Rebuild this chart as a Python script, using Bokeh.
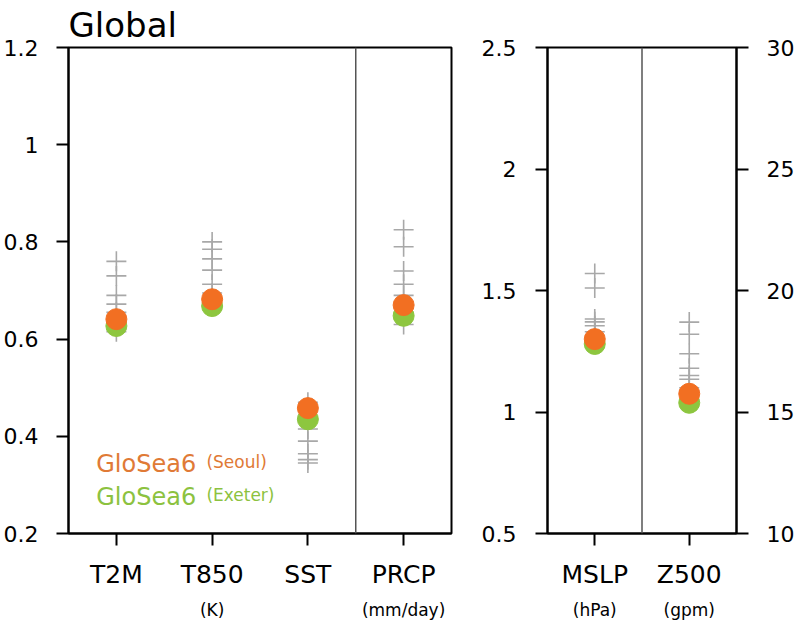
from bokeh.plotting import figure
from bokeh.models import (Range1d, LinearAxis, FixedTicker, NumeralTickFormatter,
                          Span, Label)
from bokeh.layouts import row
from bokeh.embed import file_html
from bokeh.resources import INLINE

FONT = "DejaVu Sans"
ORANGE = "#F26F22"
GREEN = "#8DC63F"
ORANGE_TXT = "#E07A36"
GREEN_TXT = "#8CC23F"
GRAY = "#A8A8A8"

# ---------------- data ----------------
left_vars = ["T2M", "T850", "SST", "PRCP"]
left_units = ["", "(K)", "", "(mm/day)"]
left_seoul = [0.641, 0.682, 0.458, 0.670]
left_exeter = [0.627, 0.668, 0.435, 0.648]
left_others = [
    [0.76, 0.73, 0.69, 0.672, 0.655, 0.615],
    [0.80, 0.785, 0.765, 0.742, 0.713, 0.695],
    [0.47, 0.44, 0.415, 0.39, 0.364, 0.352, 0.345],
    [0.825, 0.79, 0.74, 0.713, 0.69, 0.63],
]
left_ticks = [0.2, 0.4, 0.6, 0.8, 1.0, 1.2]

right_vars = ["MSLP", "Z500"]
right_units = ["(hPa)", "(gpm)"]
mslp_seoul = 1.30
mslp_exeter = 1.28
mslp_others = [1.57, 1.51, 1.383, 1.371, 1.355, 1.33]
z500_seoul = 15.75
z500_exeter = 15.38
z500_others = [18.7, 18.2, 17.4, 16.8, 16.5, 16.35, 16.0]
right_ticks = [0.5, 1.0, 1.5, 2.0, 2.5]
z_ticks = [10, 15, 20, 25, 30]


def style_axis(ax, size, standoff, tick_out=12):
    ax.major_label_text_font = FONT
    ax.major_label_text_font_size = size
    ax.major_label_text_color = "black"
    ax.major_label_standoff = standoff
    ax.axis_line_width = 2
    ax.axis_line_color = "black"
    ax.major_tick_line_width = 2
    ax.major_tick_line_color = "black"
    ax.major_tick_out = tick_out
    ax.major_tick_in = 0
    ax.minor_tick_out = 0
    ax.minor_tick_in = 0
    ax.minor_tick_line_color = None


def unit_axis(positions, units):
    ticks = [pos for pos, u in zip(positions, units) if u]
    ax = LinearAxis(ticker=FixedTicker(ticks=ticks),
                    major_label_overrides={pos: u for pos, u in zip(positions, units) if u})
    style_axis(ax, "17px", 8, tick_out=0)
    ax.axis_line_color = None
    ax.major_tick_line_color = None
    return ax


def base_fig(width, xr, yr, ml, mr):
    p = figure(width=width, height=625, x_range=xr, y_range=yr,
               output_backend="svg", toolbar_location=None,
               min_border_left=ml, min_border_right=mr,
               min_border_top=46, min_border_bottom=92)
    p.grid.visible = False
    p.outline_line_color = "black"
    p.outline_line_width = 2
    p.background_fill_color = "white"
    p.border_fill_color = "white"
    return p


# ---------------- left panel ----------------
lpos = list(range(1, len(left_vars) + 1))
p1 = base_fig(478, Range1d(0.5, len(left_vars) + 0.5), Range1d(0.2, 1.2), 67, 27)
p1.title.text = "Global"
p1.title.text_font = FONT
p1.title.text_font_size = "34px"
p1.title.text_font_style = "normal"
p1.title.text_color = "black"
p1.title.align = "left"
p1.title.standoff = 5
p1.yaxis.ticker = FixedTicker(ticks=left_ticks)
p1.yaxis.formatter = NumeralTickFormatter(format="0.[0]")
style_axis(p1.yaxis[0], "22px", 18)
p1.xaxis.ticker = FixedTicker(ticks=lpos)
p1.xaxis.major_label_overrides = {pos: v for pos, v in zip(lpos, left_vars)}
style_axis(p1.xaxis[0], "25px", 14)
p1.add_layout(unit_axis(lpos, left_units), "below")

p1.add_layout(Span(location=3.5, dimension="height", line_color="#555555", line_width=1.5))

ox, oy = [], []
for pos, vals in zip(lpos, left_others):
    ox += [pos] * len(vals)
    oy += vals
p1.scatter(ox, oy, marker="cross", size=20, line_color=GRAY, line_width=1.6)
p1.scatter(lpos, left_exeter, size=21, fill_color=GREEN, line_color=GREEN)
p1.scatter(lpos, left_seoul, size=21, fill_color=ORANGE, line_color=ORANGE)

p1.add_layout(Label(x=0.79, y=0.344, text="GloSea6", text_font=FONT,
                    text_font_size="24px", text_color=ORANGE_TXT, text_baseline="alphabetic"))
p1.add_layout(Label(x=1.94, y=0.348, text="(Seoul)", text_font=FONT,
                    text_font_size="17px", text_color=ORANGE_TXT, text_baseline="alphabetic"))
p1.add_layout(Label(x=0.79, y=0.275, text="GloSea6", text_font=FONT,
                    text_font_size="24px", text_color=GREEN_TXT, text_baseline="alphabetic"))
p1.add_layout(Label(x=1.94, y=0.279, text="(Exeter)", text_font=FONT,
                    text_font_size="17px", text_color=GREEN_TXT, text_baseline="alphabetic"))

# ---------------- right panel ----------------
rpos = list(range(1, len(right_vars) + 1))
p2 = base_fig(319, Range1d(0.5, len(right_vars) + 0.5), Range1d(0.5, 2.5), 68, 60)
p2.extra_y_ranges = {"z": Range1d(10, 30)}
p2.yaxis.ticker = FixedTicker(ticks=right_ticks)
p2.yaxis.formatter = NumeralTickFormatter(format="0.[0]")
style_axis(p2.yaxis[0], "22px", 19)
zax = LinearAxis(y_range_name="z", ticker=FixedTicker(ticks=z_ticks),
                 formatter=NumeralTickFormatter(format="0"))
style_axis(zax, "22px", 18)
p2.add_layout(zax, "right")
p2.xaxis.ticker = FixedTicker(ticks=rpos)
p2.xaxis.major_label_overrides = {pos: v for pos, v in zip(rpos, right_vars)}
style_axis(p2.xaxis[0], "25px", 14)
p2.add_layout(unit_axis(rpos, right_units), "below")

p2.add_layout(Span(location=1.5, dimension="height", line_color="#555555", line_width=1.5))

p2.scatter([rpos[0]] * len(mslp_others), mslp_others, marker="cross", size=20,
           line_color=GRAY, line_width=1.6)
p2.scatter([rpos[1]] * len(z500_others), z500_others, marker="cross", size=20,
           line_color=GRAY, line_width=1.6, y_range_name="z")
p2.scatter([rpos[0]], [mslp_exeter], size=21, fill_color=GREEN, line_color=GREEN)
p2.scatter([rpos[1]], [z500_exeter], size=21, fill_color=GREEN, line_color=GREEN,
           y_range_name="z")
p2.scatter([rpos[0]], [mslp_seoul], size=21, fill_color=ORANGE, line_color=ORANGE)
p2.scatter([rpos[1]], [z500_seoul], size=21, fill_color=ORANGE, line_color=ORANGE,
           y_range_name="z")

layout = row(p1, p2)
open("out.html", "w").write(file_html(layout, INLINE))
